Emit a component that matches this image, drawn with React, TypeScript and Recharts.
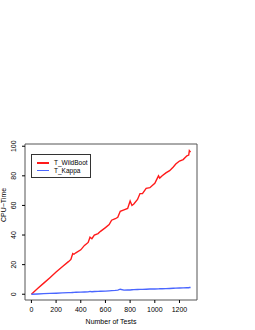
import { LineChart, Line, XAxis, YAxis, ReferenceArea } from 'recharts';

const tests = [0, 50, 100, 150, 200, 250, 300, 320, 335, 345, 360, 400, 430, 460, 475, 490, 510, 540, 560, 600, 630, 650, 680, 700, 720, 750, 780, 800, 815, 830, 860, 880, 900, 930, 960, 1000, 1030, 1040, 1060, 1090, 1120, 1150, 1170, 1200, 1230, 1260, 1275, 1280, 1290];
const wildBoot = [0, 3.8, 7.5, 11.2, 15, 18.6, 22, 23.5, 27.5, 27, 28, 30, 33, 35, 38.5, 37.5, 40, 41, 42.5, 45, 47, 50, 51, 52, 56, 57, 58, 63, 60, 61, 64, 68, 68, 71.5, 72, 75, 80, 78.5, 80, 82, 83.5, 86, 88, 90, 91, 93.5, 94, 97, 96];
const kappa = [0, 0.2, 0.4, 0.55, 0.7, 0.9, 1.05, 1.1, 1.2, 1.25, 1.3, 1.4, 1.5, 1.6, 1.9, 1.7, 1.8, 1.9, 2, 2.1, 2.3, 2.4, 2.6, 2.8, 3.4, 2.8, 2.9, 2.9, 3, 3.1, 3.2, 3.3, 3.3, 3.4, 3.5, 3.5, 3.6, 3.7, 3.7, 3.8, 3.9, 4, 4.1, 4.2, 4.3, 4.4, 4.4, 4.5, 4.5];
const xTicks = [0, 200, 400, 600, 800, 1000, 1200];
const yTicks = [0, 20, 40, 60, 80, 100];
const seriesNames = ['T_WildBoot', 'T_Kappa'];
const seriesColors = ['#ff1a1a', '#4a66ff'];

const data = tests.map((t, i) => ({ t, w: wildBoot[i], k: kappa[i] }));
const FONT = 'Liberation Sans, Arial, sans-serif';

const XTick = (props: any) => {
  const { x, y, payload } = props;
  return (
    <text x={x} y={y + 7} textAnchor="middle" fontSize={7} fontFamily={FONT} fill="#000">
      {payload.value}
    </text>
  );
};

const YTick = (props: any) => {
  const { x, y, payload } = props;
  return (
    <text x={x - 4} y={y} textAnchor="middle" fontSize={7} fontFamily={FONT} fill="#000" transform={`rotate(-90 ${x - 4} ${y})`}>
      {payload.value}
    </text>
  );
};

const LegendBox = () => (
  <div style={{ position: 'absolute', left: 31, top: 154, border: '1px solid #333', width: 60, height: 24, background: '#fff', fontFamily: FONT, fontSize: 6.5, boxSizing: 'border-box', paddingTop: 4 }}>
    {seriesNames.map((n, i) => (
      <div key={n} style={{ display: 'flex', alignItems: 'center', height: 7.5, whiteSpace: 'nowrap' }}>
        <div style={{ width: 12, height: 1.5, background: seriesColors[i], marginLeft: 5, marginRight: 5, flexShrink: 0 }} />
        <span>{n}</span>
      </div>
    ))}
  </div>
);

export default function App() {
  return (
    <div style={{ position: 'absolute', left: 0, top: 0, width: 255, height: 330, background: '#fff' }}>
      <LineChart width={255} height={330} data={data} margin={{ top: 144, right: 58, bottom: 0, left: 0 }}>
        <XAxis
          dataKey="t"
          type="number"
          domain={[-52, 1342]}
          ticks={xTicks}
          interval={0}
          tick={<XTick />}
          tickSize={3}
          tickLine={{ stroke: '#000' }}
          axisLine={false}
          height={30}
          allowDataOverflow
          label={{ value: 'Number of Tests', position: 'insideBottom', offset: 6, fontSize: 7, fontFamily: FONT, fill: '#000' }}
        />
        <YAxis
          type="number"
          domain={[-3.9, 101.5]}
          ticks={yTicks}
          interval={0}
          tick={<YTick />}
          tickSize={3}
          tickLine={{ stroke: '#000' }}
          axisLine={false}
          width={25}
          allowDataOverflow
          label={{ value: 'CPU−Time', angle: -90, position: 'insideLeft', offset: 4, fontSize: 7, fontFamily: FONT, fill: '#000' }}
        />
        <ReferenceArea x1={-52} x2={1342} y1={-3.9} y2={101.5} fill="none" stroke="#555" strokeWidth={1} ifOverflow="visible" />
        <Line dataKey="w" stroke={seriesColors[0]} strokeWidth={1.4} dot={false} isAnimationActive={false} />
        <Line dataKey="k" stroke={seriesColors[1]} strokeWidth={1.4} dot={false} isAnimationActive={false} />
      </LineChart>
      <LegendBox />
    </div>
  );
}
